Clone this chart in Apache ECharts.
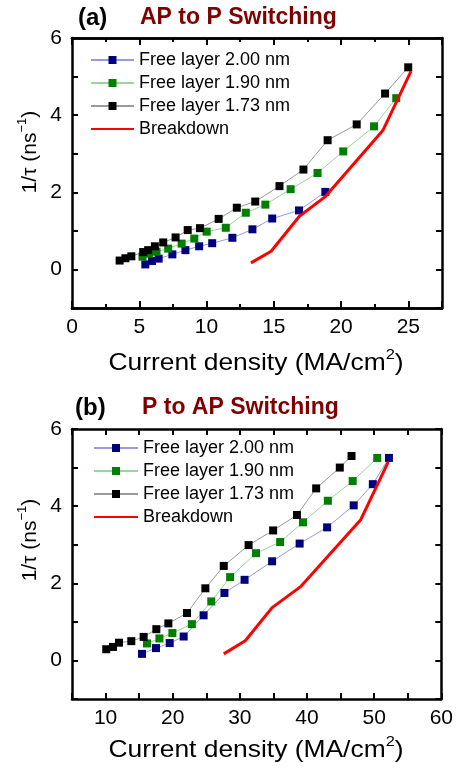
<!DOCTYPE html>
<html><head><meta charset="utf-8">
<script src="https://cdn.jsdelivr.net/npm/echarts@6/dist/echarts.min.js"></script>
<style>html,body{margin:0;padding:0;background:#fff}#c{width:456px;height:771px}</style>
</head><body><div id="c"></div>
<script>
// ---- Panel (a): AP to P switching ----
const a200 = [[5.45,0.13],[5.95,0.22],[6.44,0.28],[7.46,0.39],[8.43,0.50],[9.45,0.60],[10.42,0.68],[11.92,0.82],[13.41,1.04],[14.88,1.32],[16.87,1.53],[18.83,2.01]];
const a190 = [[5.24,0.33],[5.73,0.41],[6.28,0.46],[7.15,0.54],[8.15,0.67],[9.09,0.80],[10.01,0.98],[11.43,1.08],[12.92,1.47],[14.37,1.68],[16.25,2.08],[18.25,2.50],[20.16,3.06],[22.45,3.71],[24.1,4.44]];
const a173 = [[3.54,0.23],[3.97,0.29],[4.41,0.34],[5.29,0.45],[5.66,0.50],[6.16,0.60],[6.78,0.70],[7.7,0.83],[8.6,1.02],[9.51,1.07],[10.9,1.31],[12.25,1.60],[13.62,1.76],[15.42,2.16],[17.2,2.59],[19.0,3.35],[21.16,3.76],[23.27,4.56],[24.99,5.24]];
const aBreak = [[13.3,0.17],[14.8,0.47],[16.9,1.38],[18.8,1.88],[23.1,3.6],[25.2,5.14]];
// ---- Panel (b): P to AP switching ----
const b200 = [[15.42,0.17],[17.51,0.32],[19.55,0.45],[21.63,0.62],[24.6,1.17],[27.7,1.75],[30.7,2.09],[34.8,2.57],[38.9,3.03],[42.99,3.45],[46.95,4.02],[49.8,4.57],[52.2,5.25]];
const b190 = [[16.17,0.44],[18.02,0.57],[19.95,0.71],[22.85,0.94],[25.74,1.53],[28.55,2.16],[32.4,2.78],[36.0,3.07],[39.4,3.58],[43.1,4.14],[46.8,4.65],[50.46,5.25]];
const b173 = [[10.1,0.29],[11.1,0.35],[12.0,0.46],[13.83,0.50],[15.67,0.61],[17.56,0.81],[19.35,0.96],[22.13,1.23],[24.86,1.87],[27.6,2.45],[31.3,2.99],[34.95,3.37],[38.5,3.77],[41.36,4.46],[44.88,5.0],[46.63,5.3]];
const bBreak = [[27.6,0.17],[30.8,0.51],[34.8,1.37],[39.1,1.92],[48.0,3.65],[52.1,5.15]];

const names = ['Free layer 2.00 nm','Free layer 1.90 nm','Free layer 1.73 nm','Breakdown'];
const titlesA = ['(a)','AP to P Switching'];
const titlesB = ['(b)','P to AP Switching'];
const xRangeA = [0,27.5], xStepA = [5,2.5];
const xRangeB = [5,60],   xStepB = 5;
const yRange = [-1,6];

const FONT = 'Liberation Sans, Arial, sans-serif';
const TICK = '#000';
const chart = echarts.init(document.getElementById('c'));

const grids = [
  {left:72, top:38, width:370, height:270},
  {left:72, top:429, width:370, height:270}
];
const xAxes = [], yAxes = [];
function mkAxis(g,pos,range,step,len,label){
  return {type:'value', gridIndex:g, position:pos, min:range[0], max:range[1], interval:step,
    axisLine:{show:true,onZero:false,lineStyle:{color:'#000',width:2.5}},
    splitLine:{show:false},
    axisTick:{show:true,inside:true,length:len,lineStyle:{color:TICK,width:2}},
    axisLabel:label ? Object.assign({show:true,color:'#000',fontSize:21,fontFamily:FONT}, label) : {show:false}};
}
// panel a
xAxes.push(mkAxis(0,'bottom',xRangeA,xStepA[0],7,{margin:9,formatter:v=>(v<=25 ? String(v) : '')}));
xAxes.push(mkAxis(0,'bottom',xRangeA,xStepA[1],4,null));
xAxes.push(mkAxis(0,'top',xRangeA,xStepA[0],7,null));
xAxes.push(mkAxis(0,'top',xRangeA,xStepA[1],4,null));
yAxes.push(mkAxis(0,'left',yRange,1,6,{margin:10,formatter:v=>(Math.round(v)%2===0 ? String(Math.round(v)) : '')}));
yAxes.push(mkAxis(0,'right',yRange,1,6,null));
// panel b
xAxes.push(mkAxis(1,'bottom',xRangeB,xStepB,6,{margin:9,formatter:v=>(v%10===0 ? String(v) : '')}));
xAxes.push(mkAxis(1,'top',xRangeB,xStepB,6,null));
yAxes.push(mkAxis(1,'left',yRange,1,6,{margin:10,formatter:v=>(Math.round(v)%2===0 ? String(Math.round(v)) : '')}));
yAxes.push(mkAxis(1,'right',yRange,1,6,null));
const xa = 0, ya = 0, xb = 4, yb = 2;

const styles = [
  {sym:'#00007f', line:'#9a9ae0'},
  {sym:'#007f00', line:'#99d699'},
  {sym:'#000000', line:'#9a9a9a'}
];
function mkSeries(data, idx, xi, yi){
  const s = styles[idx];
  return {type:'line', name:names[idx], xAxisIndex:xi, yAxisIndex:yi, data:data,
    symbol:'rect', symbolSize:8, showSymbol:true, animation:false,
    itemStyle:{color:s.sym}, lineStyle:{color:s.line,width:1}, z:3};
}
function mkBreak(data, xi, yi){
  return {type:'line', name:names[3], xAxisIndex:xi, yAxisIndex:yi, data:data,
    symbol:'none', animation:false, itemStyle:{color:'#ff0000'}, lineStyle:{color:'#ff0000',width:3}, z:4};
}
const series = [
  mkSeries(a200,0,xa,ya), mkSeries(a190,1,xa,ya), mkSeries(a173,2,xa,ya), mkBreak(aBreak,xa,ya),
  mkSeries(b200,0,xb,yb), mkSeries(b190,1,xb,yb), mkSeries(b173,2,xb,yb), mkBreak(bBreak,xb,yb)
];

function legend(left, top, w){
  return {orient:'vertical', left:left, top:top, padding:0, itemGap:5, itemWidth:w, itemHeight:10,
    data:[names[0],names[1],names[2],{name:names[3], itemStyle:{opacity:0}}], selectedMode:false,
    textStyle:{color:'#000', fontSize:18, fontFamily:FONT, lineHeight:18, padding:[0,0,0,0]}};
}

const rich = {
  n:{fontSize:24, fontFamily:FONT, color:'#000', lineHeight:28, verticalAlign:'bottom'},
  s:{fontSize:15, fontFamily:FONT, color:'#000', lineHeight:15, verticalAlign:'top'}
};
const yRich = {
  n:{fontSize:21, fontFamily:FONT, color:'#000', lineHeight:25, verticalAlign:'bottom'},
  s:{fontSize:13, fontFamily:FONT, color:'#000', lineHeight:13, verticalAlign:'top'}
};
function xName(y){
  return {type:'text', x:256, y:y, scaleX:1.1, style:{text:'{n|Current density (MA/cm}{s|2}{n|)}', rich:rich, align:'center', verticalAlign:'middle'}};
}
function yName(y){
  return {type:'text', x:28, y:y, rotation:Math.PI/2, style:{text:'{n|1/τ (ns}{s|−1}{n|)}', rich:yRich, align:'center', verticalAlign:'middle'}};
}
function title(t, y, x1, x2){
  return [
    {type:'text', left:x1, top:y, style:{text:t[0], fontSize:24, fontWeight:'bold', fontFamily:FONT, fill:'#000'}},
    {type:'text', left:x2, top:y, style:{text:t[1], fontSize:23, fontWeight:'bold', fontFamily:FONT, fill:'#800000'}}
  ];
}

chart.setOption({
  backgroundColor:'#fff',
  animation:false,
  grid:grids,
  xAxis:xAxes,
  yAxis:yAxes,
  legend:[legend(90,51,43), legend(93,439,44)],
  series:series,
  graphic:[].concat(title(titlesA,6,78,140), title(titlesB,396,75,142),
    [xName(361), xName(748), yName(152), yName(540)])
});
</script></body></html>
